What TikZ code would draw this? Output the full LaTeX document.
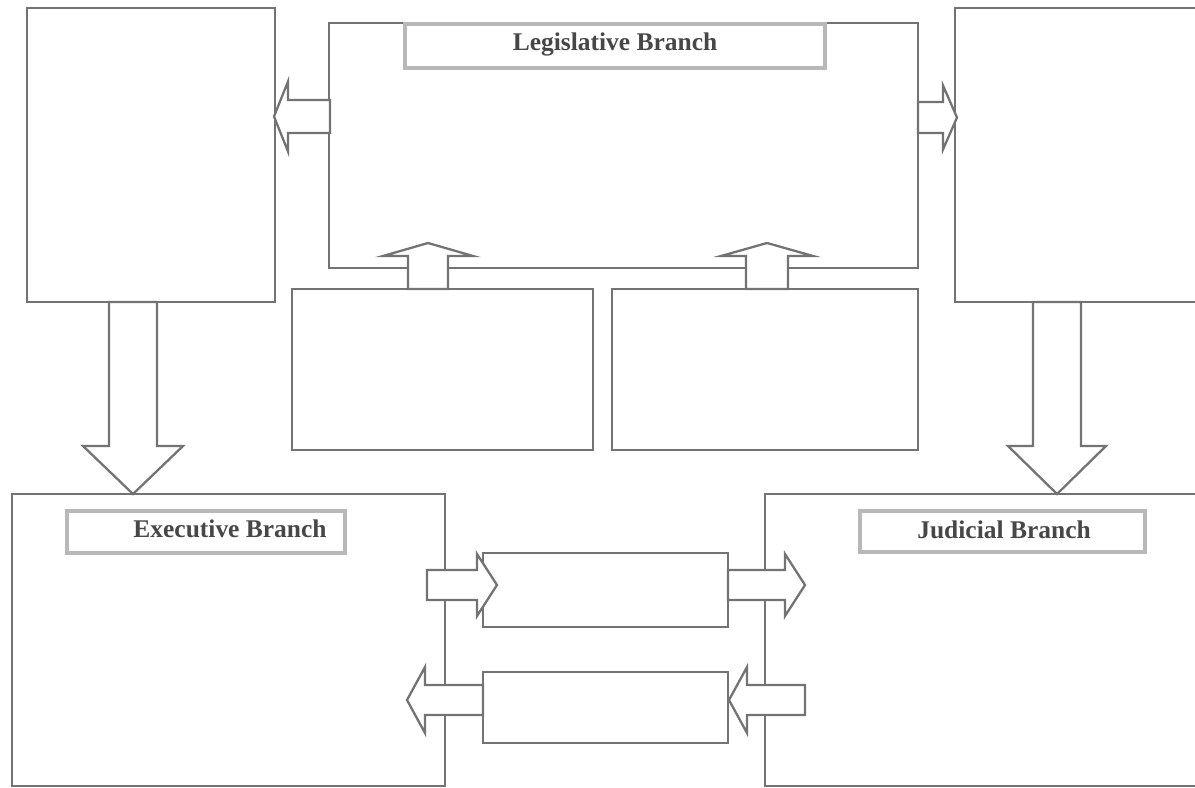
\documentclass[tikz,border=0pt]{standalone}
\usepackage{fontspec}
\setmainfont{Liberation Serif}
\usetikzlibrary{calc}

\newcommand{\pxu}{0.02cm}
% block arrow: tail, tip, half shaft, half head, head length (in px)
\newcommand{\blockarrow}[5]{%
	\coordinate (hb) at ($(#2)!{#5*\pxu}!(#1)$);
	\draw[arr] ($(#1)!{#3*\pxu}!90:(#2)$) -- ($(hb)!{#3*\pxu}!90:(#2)$)
	-- ($(hb)!{#4*\pxu}!90:(#2)$) -- (#2) -- ($(hb)!{#4*\pxu}!-90:(#2)$)
	-- ($(hb)!{#3*\pxu}!-90:(#2)$) -- ($(#1)!{#3*\pxu}!-90:(#2)$) -- cycle;}

\begin{document}
\begin{tikzpicture}[x=0.02cm, y=-0.02cm]
	\tikzstyle{panel} = [rectangle, draw=black!55, line width=1.6pt, fill=white, inner sep=0pt]
	\tikzstyle{titlebox} = [rectangle, draw=black!28, line width=1.8pt, fill=white, inner sep=0pt]
	\tikzstyle{titletext} = [font=\fontsize{14.5}{17}\selectfont\bfseries, text=black!72, inner sep=0pt]
	\tikzstyle{arr} = [draw=black!55, line width=1.3pt, fill=white, line join=miter]
	\useasboundingbox (0,0) rectangle (1195,787);
	\clip (0,0) rectangle (1195,787);
	
	\node[panel, minimum width=248*\pxu, minimum height=294*\pxu] at (151,155) (leftbox) {};
	\node[panel, minimum width=589*\pxu, minimum height=245*\pxu] at (623.5,145.5) (legis) {};
	\node[panel, minimum width=295*\pxu, minimum height=294*\pxu] at (1102.5,155) (rightbox) {};
	\node[panel, minimum width=301*\pxu, minimum height=161*\pxu] at (442.5,369.5) (midL) {};
	\node[panel, minimum width=306*\pxu, minimum height=161*\pxu] at (765,369.5) (midR) {};
	\node[panel, minimum width=433*\pxu, minimum height=292*\pxu] at (228.5,640) (exec) {};
	\node[panel, minimum width=485*\pxu, minimum height=292*\pxu] at (1007.5,640) (judic) {};
	\node[panel, minimum width=245*\pxu, minimum height=74*\pxu] at (605.5,590) (upper) {};
	\node[panel, minimum width=245*\pxu, minimum height=71*\pxu] at (605.5,707.5) (lower) {};
	
	\node[titlebox, minimum width=420*\pxu, minimum height=44*\pxu] at (615,46) (legtitle) {};
	\node[titlebox, minimum width=278*\pxu, minimum height=42*\pxu] at (206,532) (exectitle) {};
	\node[titlebox, minimum width=285*\pxu, minimum height=41*\pxu] at (1002.5,531.5) (judtitle) {};
	\node[titletext] at (615,44) (legtext) {Legislative Branch};
	\node[titletext] at (230,529) (exectext) {Executive Branch};
	\node[titletext] at (1004,530) (judtext) {Judicial Branch};
	
	% arrow ends
	\coordinate (legW) at (330,116.5);
	\coordinate (leftE) at (274,116.5);
	\coordinate (legE) at (918,117.5);
	\coordinate (rightW) at (957,117.5);
	\coordinate (midLN) at (428,289);
	\coordinate (legS1) at (428,243);
	\coordinate (midRN) at (767,289);
	\coordinate (legS2) at (767,243);
	\coordinate (leftS) at (133,302);
	\coordinate (execN) at (133,494);
	\coordinate (rightS) at (1057,302);
	\coordinate (judicN) at (1057,494);
	\coordinate (execE1) at (427,585);
	\coordinate (upperW) at (497,585);
	\coordinate (upperE) at (728,585);
	\coordinate (judicW1) at (805,585);
	\coordinate (lowerW) at (483,700);
	\coordinate (execE2) at (407,700);
	\coordinate (judicW2) at (805,700);
	\coordinate (lowerE) at (729,700);
	
	\blockarrow{legW}{leftE}{16.5}{35}{14}
	\blockarrow{legE}{rightW}{15.5}{32}{14}
	\blockarrow{midLN}{legS1}{20}{45}{13}
	\blockarrow{midRN}{legS2}{21}{46}{13}
	\blockarrow{leftS}{execN}{24}{50}{48}
	\blockarrow{rightS}{judicN}{24}{49}{48}
	\blockarrow{execE1}{upperW}{15}{31}{20}
	\blockarrow{upperE}{judicW1}{15}{31}{20}
	\blockarrow{lowerW}{execE2}{15}{33}{18}
	\blockarrow{judicW2}{lowerE}{15}{33}{18}
\end{tikzpicture}
\end{document}
